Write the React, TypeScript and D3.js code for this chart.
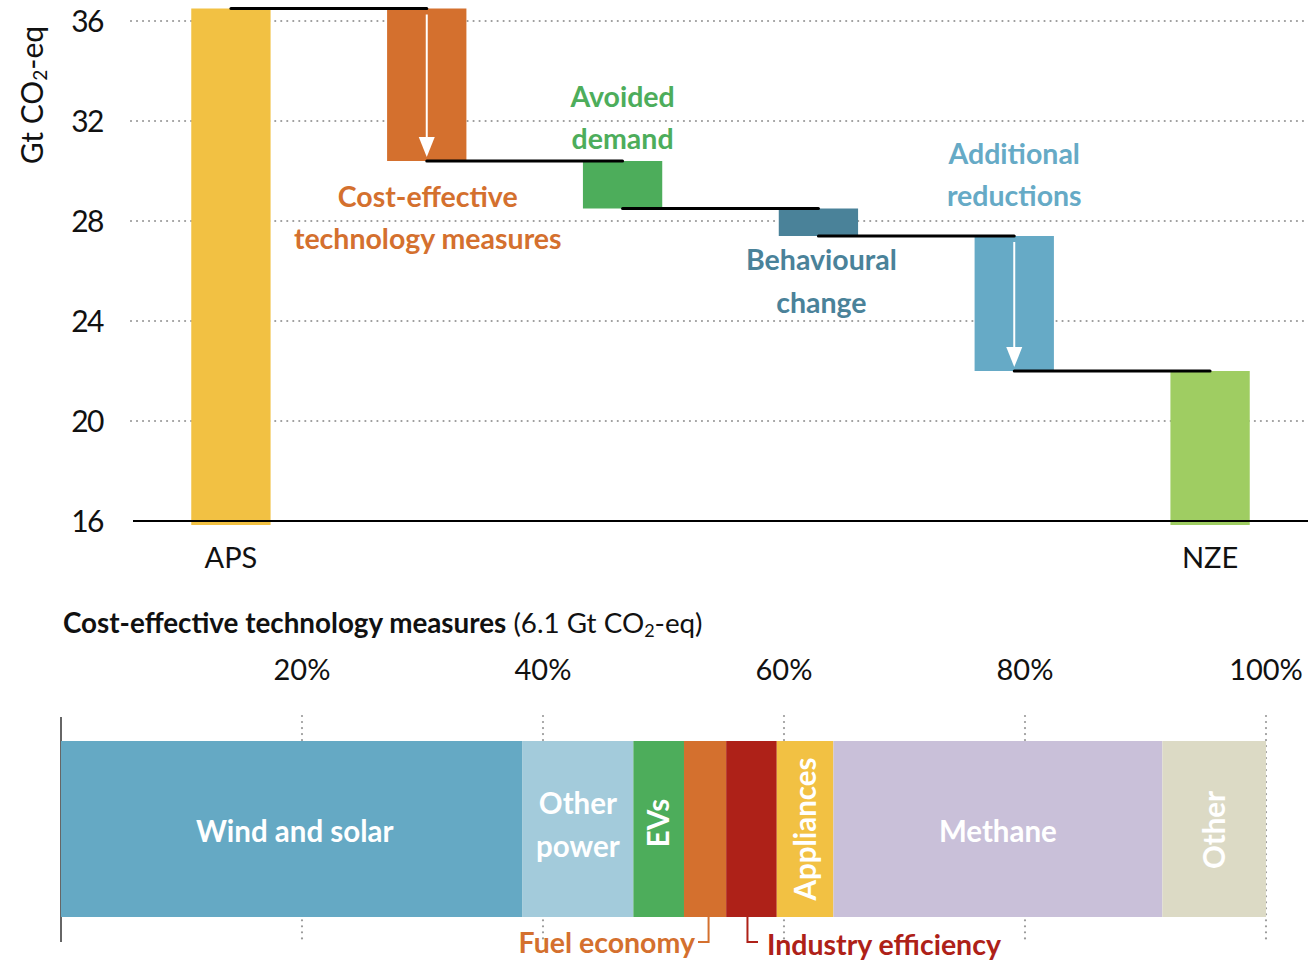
import React from "react";
import * as d3 from "d3";

// ---------- data ----------
const categories = [
  "APS",
  "Cost-effective technology measures",
  "Avoided demand",
  "Behavioural change",
  "Additional reductions",
  "NZE",
];
const startValue = 36.5; // APS total (Gt CO2-eq)
const changes = [-6.1, -1.9, -1.1, -5.4]; // waterfall steps
const endValue = 22.0; // NZE total
const yTicks = [16, 20, 24, 28, 32, 36];
const axisLabels = ["APS", "", "", "", "", "NZE"];
const barColors = ["#F2C143", "#D4702E", "#4DAD5B", "#4A8299", "#66AAC6", "#9FCD62"];

const segNames = [
  "Wind and solar",
  "Other power",
  "EVs",
  "Fuel economy",
  "Industry efficiency",
  "Appliances",
  "Methane",
  "Other",
];
const segShares = [38.3, 9.2, 4.2, 3.5, 4.2, 4.7, 27.3, 8.6];
const segColors = ["#65A9C4", "#A3CBDB", "#4DAD5B", "#D4702E", "#AE2118", "#F2C143", "#C9C0D9", "#DCDAC5"];
const pctTicks = [20, 40, 60, 80, 100];

const FONT = "Lato, 'Open Sans', sans-serif";

export default function App() {
  // ---------- top waterfall ----------
  const y = d3.scaleLinear().domain([16, 36]).range([521, 21]);
  const x = d3.scalePoint<string>().domain(categories).range([133, 1308]).padding(0.5);
  const bw = x.step() * 0.405;

  const levels: number[] = [startValue];
  changes.forEach((c) => levels.push(levels[levels.length - 1] + c));

  const bars = categories.map((c, i) => {
    if (i === 0) return { c, top: startValue, bottom: 16, total: true };
    if (i === categories.length - 1) return { c, top: endValue, bottom: 16, total: true };
    return { c, top: levels[i - 1], bottom: levels[i], total: false };
  });

  const connectors = categories.slice(0, -1).map((c, i) => ({
    x1: x(c)!,
    x2: x(categories[i + 1])!,
    v: levels[i],
  }));

  const annotations: Record<string, { lines: string[]; color: string; base: "top" | "bottom"; dys: number[]; dx: number }> = {
    "Cost-effective technology measures": { lines: ["Cost-effective", "technology measures"], color: "#D4702E", base: "bottom", dys: [46, 88], dx: 1 },
    "Avoided demand": { lines: ["Avoided", "demand"], color: "#4DAD5B", base: "top", dys: [-54, -12], dx: 0 },
    "Behavioural change": { lines: ["Behavioural", "change"], color: "#4A8299", base: "bottom", dys: [34, 77], dx: 3 },
    "Additional reductions": { lines: ["Additional", "reductions"], color: "#66AAC6", base: "top", dys: [-72, -30], dx: 0 },
  };
  const arrowBars = new Set(["Cost-effective technology measures", "Additional reductions"]);

  // ---------- bottom stacked bar ----------
  const xb = d3.scaleLinear().domain([0, 100]).range([61, 1266]);
  const barTop = 741;
  const barBot = 917;
  let acc = 0;
  const segs = segNames.map((n, i) => {
    const s = { name: n, x0: acc, x1: acc + segShares[i], color: segColors[i] };
    acc += segShares[i];
    return s;
  });
  const segMid = (s: { x0: number; x1: number }) => xb((s.x0 + s.x1) / 2);

  const dotted = { stroke: "#9a9a9a", strokeWidth: 2.2, strokeDasharray: "0.01 6", strokeLinecap: "round" as const };

  return (
    <div style={{ position: "absolute", left: 0, top: 0 }}>
      <svg width={1315} height={960} style={{ display: "block", background: "#fff" }} fontFamily={FONT}>
        {/* gridlines */}
        {yTicks.filter((t) => t !== 16).map((t) => (
          <line key={t} x1={131} x2={1308} y1={y(t)} y2={y(t)} {...dotted} />
        ))}
        {/* y tick labels */}
        {yTicks.map((t) => (
          <text key={t} x={103} y={y(t)} dy="0.36em" textAnchor="end" fontSize={30} letterSpacing={-1.5} fill="#111">
            {t}
          </text>
        ))}
        {/* y title */}
        <text transform="translate(43,95) rotate(-90)" textAnchor="middle" fontSize={30} fill="#111">
          Gt CO<tspan fontSize={19} dy={4}>2</tspan>
          <tspan dy={-4}>-eq</tspan>
        </text>

        {/* bars */}
        {bars.map((b, i) => (
          <rect
            key={b.c}
            x={x(b.c)! - bw / 2}
            width={bw}
            y={y(b.top)}
            height={(b.total ? y(16) + 4 : y(b.bottom)) - y(b.top)}
            fill={barColors[i]}
          />
        ))}
        {/* axis */}
        <line x1={133} x2={1308} y1={y(16)} y2={y(16)} stroke="#000" strokeWidth={2} />

        {/* white arrows */}
        {bars.filter((b) => arrowBars.has(b.c)).map((b) => {
          const cx = x(b.c)!;
          const t = y(b.top) + 6;
          const tip = y(b.bottom) - 4;
          return (
            <g key={b.c}>
              <line x1={cx} x2={cx} y1={t} y2={tip - 18} stroke="#fff" strokeWidth={2} />
              <path d={`M${cx - 8},${tip - 20} L${cx + 8},${tip - 20} L${cx},${tip} Z`} fill="#fff" />
            </g>
          );
        })}

        {/* connectors */}
        {connectors.map((c, i) => (
          <line key={i} x1={c.x1} x2={c.x2} y1={y(c.v)} y2={y(c.v)} stroke="#000" strokeWidth={3} strokeLinecap="round" />
        ))}

        {/* annotations */}
        {bars.map((b) => {
          const a = annotations[b.c];
          if (!a) return null;
          const base = a.base === "top" ? y(b.top) : y(b.bottom);
          return a.lines.map((l, k) => (
            <text key={b.c + k} x={x(b.c)! + a.dx} y={base + a.dys[k]} textAnchor="middle" fontSize={28.5} fontWeight={700} fill={a.color}>
              {l}
            </text>
          ));
        })}

        {/* category labels */}
        {categories.map((c, i) =>
          axisLabels[i] ? (
            <text key={c} x={x(c)!} y={568} textAnchor="middle" fontSize={29} fill="#111">
              {axisLabels[i]}
            </text>
          ) : null
        )}

        {/* ---------- bottom chart ---------- */}
        <text x={63} y={633} fontSize={27.8} fill="#111">
          <tspan fontWeight={700}>Cost-effective technology measures</tspan>
          <tspan> (6.1 Gt CO</tspan>
          <tspan fontSize={18} dy={4}>2</tspan>
          <tspan dy={-4}>-eq)</tspan>
        </text>
        {pctTicks.map((p) => (
          <text key={p} x={xb(p)} y={680} textAnchor="middle" fontSize={29} fill="#111">
            {p}%
          </text>
        ))}
        {pctTicks.map((p) => (
          <line key={p} x1={xb(p)} x2={xb(p)} y1={716} y2={940} {...dotted} />
        ))}
        <line x1={61} x2={61} y1={717} y2={942} stroke="#333" strokeWidth={1.5} />

        {segs.map((s) => (
          <rect key={s.name} x={xb(s.x0)} width={xb(s.x1) - xb(s.x0)} y={barTop} height={barBot - barTop} fill={s.color} />
        ))}

        {/* segment labels */}
        <text x={segMid(segs[0]) + 3} y={842} textAnchor="middle" fontSize={29.5} fontWeight={700} fill="#fff">
          {segNames[0]}
        </text>
        <text x={segMid(segs[1])} y={814} textAnchor="middle" fontSize={29.5} fontWeight={700} fill="#fff">
          Other
        </text>
        <text x={segMid(segs[1])} y={857} textAnchor="middle" fontSize={29.5} fontWeight={700} fill="#fff">
          power
        </text>
        {[2, 5, 7].map((i) => (
          <text
            key={i}
            transform={`translate(${segMid(segs[i])},${i === 2 ? 823 : i === 5 ? 829 : 830}) rotate(-90)`}
            dy="0.36em"
            textAnchor="middle"
            fontSize={29.5}
            fontWeight={700}
            fill="#fff"
          >
            {segNames[i]}
          </text>
        ))}
        <text x={segMid(segs[6])} y={842} textAnchor="middle" fontSize={29.5} fontWeight={700} fill="#fff">
          {segNames[6]}
        </text>

        {/* labels below bar */}
        <path
          d={`M${segMid(segs[3]) + 3.5},${barBot} V942 H698`}
          fill="none"
          stroke="#D4702E"
          strokeWidth={2}
        />
        <text x={695} y={953} textAnchor="end" fontSize={28.5} fontWeight={700} fill="#D4702E">
          {segNames[3]}
        </text>
        <path
          d={`M${segMid(segs[4]) - 4},${barBot} V942 H758`}
          fill="none"
          stroke="#AE2118"
          strokeWidth={2}
        />
        <text x={767} y={955} fontSize={28.5} fontWeight={700} fill="#AE2118">
          {segNames[4]}
        </text>
      </svg>
    </div>
  );
}
